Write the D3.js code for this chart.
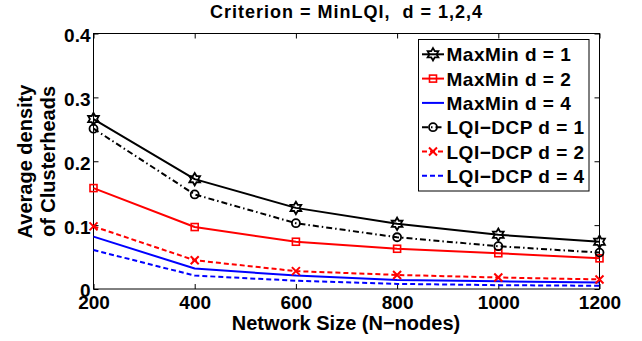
<!DOCTYPE html>
<html>
<head>
<meta charset="utf-8">
<script src="https://cdn.jsdelivr.net/npm/d3@7"></script>
<style>
  html, body { margin: 0; padding: 0; background: #fff; }
  svg { display: block; font-family: "Liberation Sans", Arial, Helvetica, sans-serif; font-weight: bold; }
</style>
</head>
<body>
<svg id="chart" width="642" height="341"></svg>
<script>
// Network sizes (x axis)
const nodes = [200, 400, 600, 800, 1000, 1200];

// Average density of clusterheads per algorithm / hop distance d
const maxMinD1 = [0.266, 0.172, 0.127, 0.102, 0.085, 0.074];
const maxMinD2 = [0.158, 0.097, 0.074, 0.063, 0.056, 0.048];
const maxMinD4 = [0.082, 0.032, 0.021, 0.014, 0.012, 0.010];
const lqiD1    = [0.251, 0.148, 0.103, 0.081, 0.067, 0.057];
const lqiD2    = [0.098, 0.045, 0.028, 0.022, 0.018, 0.015];
const lqiD4    = [0.061, 0.021, 0.013, 0.008, 0.006, 0.005];

const seriesNames = ["MaxMin d = 1", "MaxMin d = 2", "MaxMin d = 4",
                     "LQI\u2212DCP d = 1", "LQI\u2212DCP d = 2", "LQI\u2212DCP d = 4"];
const seriesValues = [maxMinD1, maxMinD2, maxMinD4, lqiD1, lqiD2, lqiD4];

const xTicks = [200, 400, 600, 800, 1000, 1200];
const yTicks = [0, 0.1, 0.2, 0.3, 0.4];

const titleText = "Criterion = MinLQI,  d = 1,2,4";
const xLabel = "Network Size (N\u2212nodes)";
const yLabelLines = ["Average density", "of Clusterheads"];

// Line / marker styles per series
const styles = [
  { color: "#000", dash: null,          marker: "hexagram" },
  { color: "#ff0000", dash: null,       marker: "square" },
  { color: "#0000ff", dash: null,       marker: null },
  { color: "#000", dash: "6,3,1.5,3",   marker: "circle" },
  { color: "#ff0000", dash: "5,3",      marker: "cross" },
  { color: "#0000ff", dash: "5,3",      marker: null }
];

const plot = { left: 93.5, right: 599.5, top: 33.5, bottom: 289 };

const svg = d3.select("#chart");

const x = d3.scaleLinear().domain([200, 1200]).range([plot.left, plot.right]);
const y = d3.scaleLinear().domain([0, 0.4]).range([plot.bottom, plot.top]);

// Marker path builders
function hexagramPath(r) {
  const pts = [];
  const ri = r / Math.sqrt(3);
  for (let i = 0; i < 12; i++) {
    const a = -Math.PI / 2 + i * Math.PI / 6;
    const rr = i % 2 === 0 ? r : ri;
    pts.push([rr * Math.cos(a), rr * Math.sin(a)]);
  }
  return "M" + pts.map(p => p[0].toFixed(2) + "," + p[1].toFixed(2)).join("L") + "Z";
}
function drawMarker(g, type, color, cx, cy) {
  if (type === "hexagram") {
    g.append("path").attr("d", hexagramPath(6.2))
      .attr("transform", `translate(${cx},${cy})`)
      .attr("fill", "none").attr("stroke", color).attr("stroke-width", 1.8);
  } else if (type === "square") {
    g.append("rect").attr("x", cx - 3.5).attr("y", cy - 3.5)
      .attr("width", 7).attr("height", 7)
      .attr("fill", "none").attr("stroke", color).attr("stroke-width", 1.6);
  } else if (type === "circle") {
    g.append("circle").attr("cx", cx).attr("cy", cy).attr("r", 4)
      .attr("fill", "none").attr("stroke", color).attr("stroke-width", 1.8);
  } else if (type === "cross") {
    const s = 4;
    g.append("path")
      .attr("d", `M${cx - s},${cy - s}L${cx + s},${cy + s}M${cx - s},${cy + s}L${cx + s},${cy - s}`)
      .attr("stroke", color).attr("stroke-width", 2).attr("fill", "none");
  }
}

// Axes (ticks pointing inward on all four sides)
const tickLen = 5;
const axisBottom = d3.axisBottom(x).tickValues(xTicks).tickSize(-tickLen).tickPadding(7).tickFormat(d3.format("d"));
const axisTop = d3.axisTop(x).tickValues(xTicks).tickSize(-tickLen).tickFormat("");
const axisLeft = d3.axisLeft(y).tickValues(yTicks).tickSize(-tickLen).tickPadding(3)
  .tickFormat(d => d === 0 ? "0" : d3.format(".1f")(d));
const axisRight = d3.axisRight(y).tickValues(yTicks).tickSize(-tickLen).tickFormat("");

function styleAxis(g) {
  g.select(".domain").remove();
  g.selectAll(".tick line").attr("stroke", "#000").attr("stroke-width", 1);
  g.selectAll(".tick text").attr("fill", "#000").attr("font-size", 19)
    .attr("font-weight", "bold").attr("font-family", "Liberation Sans, Arial, sans-serif");
}

svg.append("g").attr("transform", `translate(0,${plot.bottom})`).call(axisBottom).call(styleAxis)
  .selectAll(".tick text").attr("dy", "0.71em");
svg.append("g").attr("transform", `translate(0,${plot.top})`).call(axisTop).call(styleAxis);
svg.append("g").attr("transform", `translate(${plot.left},0)`).call(axisLeft).call(styleAxis)
  .selectAll(".tick text").attr("dy", "0.42em");
svg.append("g").attr("transform", `translate(${plot.right},0)`).call(axisRight).call(styleAxis);

// Plot frame
svg.append("rect")
  .attr("x", plot.left).attr("y", plot.top)
  .attr("width", plot.right - plot.left).attr("height", plot.bottom - plot.top)
  .attr("fill", "none").attr("stroke", "#000").attr("stroke-width", 1);

// Series lines and markers
const line = d3.line().x((d, i) => x(nodes[i])).y(d => y(d));
const dataG = svg.append("g");
seriesValues.forEach((vals, si) => {
  const st = styles[si];
  dataG.append("path").attr("d", line(vals))
    .attr("fill", "none").attr("stroke", st.color).attr("stroke-width", 2)
    .attr("stroke-dasharray", st.dash).attr("stroke-linejoin", "round");
});
seriesValues.forEach((vals, si) => {
  const st = styles[si];
  if (!st.marker) return;
  vals.forEach((v, i) => drawMarker(dataG, st.marker, st.color, x(nodes[i]), y(v)));
});

// Title (keeps the double space before "d")
svg.append("text").attr("x", 346.5).attr("y", 18)
  .attr("text-anchor", "middle").attr("font-size", 18).attr("letter-spacing", 1)
  .style("white-space", "pre")
  .text(titleText);

// X label
svg.append("text").attr("x", 346).attr("y", 330)
  .attr("text-anchor", "middle").attr("font-size", 20)
  .text(xLabel);

// Y label (two lines, rotated)
const yl = svg.append("text").attr("transform", "translate(0,161.5) rotate(-90)")
  .attr("text-anchor", "middle").attr("font-size", 20);
yl.append("tspan").attr("x", 0).attr("y", 32).text(yLabelLines[0]);
yl.append("tspan").attr("x", 0).attr("y", 55).text(yLabelLines[1]);

// Legend
const legend = svg.append("g");
legend.append("rect").attr("x", 418.5).attr("y", 39.5).attr("width", 170.5).attr("height", 151.5)
  .attr("fill", "#fff").attr("stroke", "#000").attr("stroke-width", 1);
seriesNames.forEach((name, i) => {
  const st = styles[i];
  const ly = 54.3 + i * 24.3;
  legend.append("line").attr("x1", 422).attr("x2", 444).attr("y1", ly).attr("y2", ly)
    .attr("stroke", st.color).attr("stroke-width", 2).attr("stroke-dasharray", st.dash);
  if (st.marker) drawMarker(legend, st.marker, st.color, 433, ly);
  legend.append("text").attr("x", 446.5).attr("y", ly + 7)
    .attr("font-size", 19).attr("letter-spacing", 0.5)
    .text(name);
});
</script>
</body>
</html>
